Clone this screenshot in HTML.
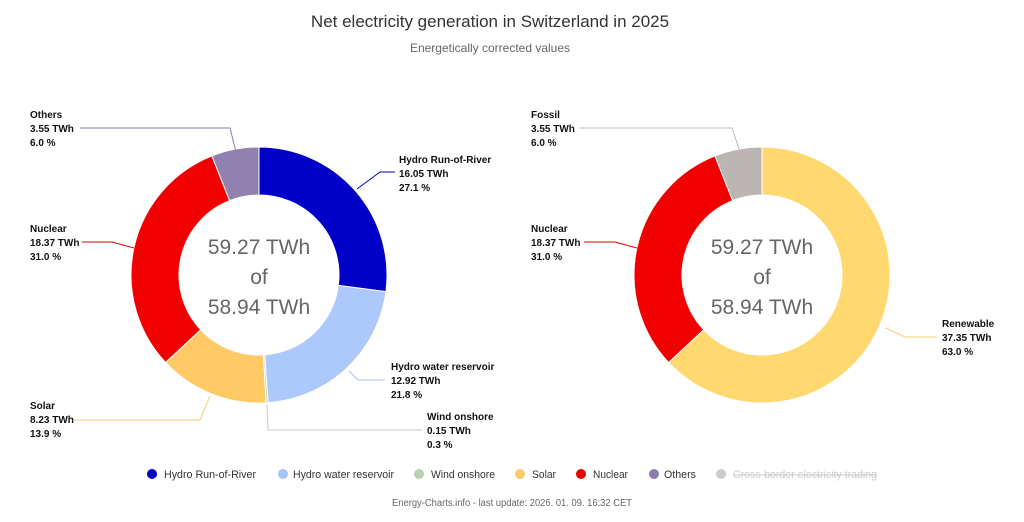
<!DOCTYPE html>
<html><head><meta charset="utf-8"><style>
body{margin:0;background:#fff;}
svg{display:block;font-family:"Liberation Sans",sans-serif;}
.l{font-size:10px;font-weight:bold;fill:#111;}
.c{font-size:21px;fill:#666;text-anchor:middle;}
.lg{font-size:11px;fill:#333;}
</style></head><body>
<svg id="s" width="1024" height="522" viewBox="0 0 1024 522">
<text x="490" y="27" text-anchor="middle" style="font-size:17px;fill:#333">Net electricity generation in Switzerland in 2025</text>
<text x="490" y="52" text-anchor="middle" style="font-size:12px;fill:#666">Energetically corrected values</text>
<g id="pies"></g>
<g fill="none" stroke-width="1">
<polyline points="80,128 230,128 236,152" stroke="#8e7cb0"/>
<polyline points="395,172 380,172 357,189" stroke="#0000c0"/>
<polyline points="82,242 112,242 134,248" stroke="#e00000"/>
<polyline points="385,380 358,380 349,371" stroke="#a8c4f8"/>
<polyline points="422,430 268,430 267,405" stroke="#c8c8c8"/>
<polyline points="72,420 200,420 210,396" stroke="#f5d070"/>
<polyline points="580,128 732,128 740,152" stroke="#bbb"/>
<polyline points="584,242 615,242 637,248" stroke="#e00000"/>
<polyline points="937,337 905,337 886,328" stroke="#f5d070"/>
</g>
<g class="l">
<text x="30" y="118">Others</text><text x="30" y="132">3.55 TWh</text><text x="30" y="146">6.0 %</text>
<text x="399" y="163">Hydro Run-of-River</text><text x="399" y="177">16.05 TWh</text><text x="399" y="191">27.1 %</text>
<text x="30" y="232">Nuclear</text><text x="30" y="246">18.37 TWh</text><text x="30" y="260">31.0 %</text>
<text x="391" y="370">Hydro water reservoir</text><text x="391" y="384">12.92 TWh</text><text x="391" y="398">21.8 %</text>
<text x="427" y="420">Wind onshore</text><text x="427" y="434">0.15 TWh</text><text x="427" y="448">0.3 %</text>
<text x="30" y="409">Solar</text><text x="30" y="423">8.23 TWh</text><text x="30" y="437">13.9 %</text>
<text x="531" y="118">Fossil</text><text x="531" y="132">3.55 TWh</text><text x="531" y="146">6.0 %</text>
<text x="531" y="232">Nuclear</text><text x="531" y="246">18.37 TWh</text><text x="531" y="260">31.0 %</text>
<text x="942" y="327">Renewable</text><text x="942" y="341">37.35 TWh</text><text x="942" y="355">63.0 %</text>
</g>
<g class="c">
<text x="259" y="254">59.27 TWh</text><text x="259" y="284">of</text><text x="259" y="314">58.94 TWh</text>
<text x="762" y="254">59.27 TWh</text><text x="762" y="284">of</text><text x="762" y="314">58.94 TWh</text>
</g>
<g class="lg">
<circle cx="152" cy="474" r="5" fill="#0000c0"/><text x="164" y="478" textLength="92" lengthAdjust="spacingAndGlyphs">Hydro Run-of-River</text>
<circle cx="283" cy="474" r="5" fill="#a8c4f8"/><text x="293" y="478" textLength="101" lengthAdjust="spacingAndGlyphs">Hydro water reservoir</text>
<circle cx="419" cy="474" r="5" fill="#b6d2b0"/><text x="431" y="478" textLength="64" lengthAdjust="spacingAndGlyphs">Wind onshore</text>
<circle cx="520" cy="474" r="5" fill="#ffc966"/><text x="532" y="478" textLength="24" lengthAdjust="spacingAndGlyphs">Solar</text>
<circle cx="581" cy="474" r="5" fill="#ee0000"/><text x="593" y="478" textLength="35" lengthAdjust="spacingAndGlyphs">Nuclear</text>
<circle cx="654" cy="474" r="5" fill="#8e7cb0"/><text x="664" y="478" textLength="32" lengthAdjust="spacingAndGlyphs">Others</text>
<circle cx="721" cy="474" r="5" fill="#ccc"/><text x="733" y="478" textLength="144" lengthAdjust="spacingAndGlyphs" style="fill:#ccc;text-decoration:line-through">Cross-border electricity trading</text>
</g>
<text x="512" y="506" text-anchor="middle" textLength="240" lengthAdjust="spacingAndGlyphs" style="font-size:10px;fill:#666">Energy-Charts.info - last update: 2026. 01. 09. 16:32 CET</text>
</svg>
<script>
function pie(cx,cy,R,r,data){
 var g=document.getElementById('pies'),a=0,tot=0;data.forEach(d=>tot+=d[0]);
 data.forEach(function(d){
  var a0=a,a1=a+d[0]/tot*2*Math.PI;a=a1;
  var P=(rr,t)=>(cx+rr*Math.sin(t)).toFixed(2)+','+(cy-rr*Math.cos(t)).toFixed(2);
  var lg=(a1-a0)>Math.PI?1:0;
  var p=document.createElementNS('http://www.w3.org/2000/svg','path');
  p.setAttribute('d','M'+P(R,a0)+'A'+R+','+R+' 0 '+lg+' 1 '+P(R,a1)+'L'+P(r,a1)+'A'+r+','+r+' 0 '+lg+' 0 '+P(r,a0)+'Z');
  p.setAttribute('fill',d[1]);p.setAttribute('stroke','#fff');p.setAttribute('stroke-width','1');
  g.appendChild(p);
 });
}
pie(259,275,128,80,[[16.05,'#0000c8'],[12.92,'#adc8fb'],[0.15,'#b6d2b0'],[8.23,'#ffca66'],[18.37,'#f20000'],[3.55,'#9181ae']]);
pie(762,275,128,80,[[37.35,'#ffd870'],[18.37,'#f20000'],[3.55,'#bbb6b3']]);
</script>
</body></html>
